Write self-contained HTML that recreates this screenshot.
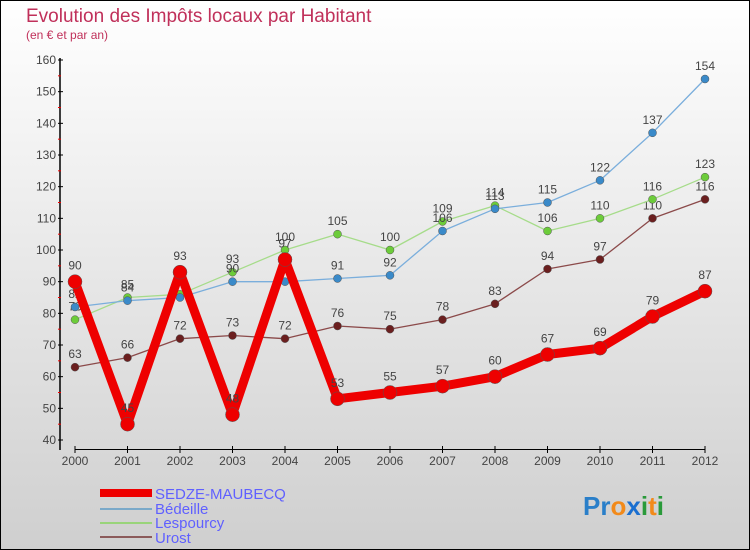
<!DOCTYPE html>
<html><head><meta charset="utf-8"><style>
body{margin:0}
#c{width:750px;height:550px;position:relative;overflow:hidden}
svg{font-family:"Liberation Sans",sans-serif}
</style></head><body>
<div id="c">
<svg id="s" width="750" height="550" xmlns="http://www.w3.org/2000/svg">
<defs><linearGradient id="bg" x1="0" y1="0" x2="0" y2="1"><stop offset="0" stop-color="#ffffff"/><stop offset="1" stop-color="#cfcfcf"/></linearGradient></defs>
<rect x="0.5" y="0.5" width="749" height="549" fill="url(#bg)" stroke="#000"/>
<text x="26" y="22" font-size="19" fill="#c0305a">Evolution des Impôts locaux par Habitant</text>
<text x="26" y="39" font-size="12" fill="#c0305a">(en € et par an)</text>
<g id="axes"></g><g id="series"></g>
<g>
<rect x="100" y="489" width="52" height="8" fill="#e00"/>
<text x="155" y="499" font-size="15" fill="#6060ff">SEDZE-MAUBECQ</text>
<rect x="100" y="508" width="52" height="2" fill="#7aa9c9"/>
<text x="155" y="514" font-size="15" fill="#6060ff">Bédeille</text>
<rect x="100" y="522" width="52" height="2" fill="#99d47a"/>
<text x="155" y="528" font-size="15" fill="#6060ff">Lespourcy</text>
<rect x="100" y="536" width="52" height="2" fill="#8b5a5a"/>
<text x="155" y="543" font-size="15" fill="#6060ff">Urost</text>
</g>
<text x="583" y="515" font-size="26" font-weight="bold"><tspan fill="#2a7fc9">Pr</tspan><tspan fill="#f28a1a">o</tspan><tspan fill="#1a6fd0">x</tspan><tspan fill="#2a9a3a">i</tspan><tspan fill="#f28a1a">t</tspan><tspan fill="#2a9a3a">i</tspan></text>
</svg></div>
<script>
const years=["2000","2001","2002","2003","2004","2005","2006","2007","2008","2009","2010","2011","2012"];
const yTicks=[40,50,60,70,80,90,100,110,120,130,140,150,160];
const sedze=[90,45,93,48,97,53,55,57,60,67,69,79,87];
const bedeille=[82,84,85,90,90,91,92,106,113,115,122,137,154];
const lespourcy=[78,85,86,93,100,105,100,109,114,106,110,116,123];
const urost=[63,66,72,73,72,76,75,78,83,94,97,110,116];
const NS="http://www.w3.org/2000/svg";
const X=i=>75+i*52.5, Y=v=>440-(v-40)*380/120;
function mk(t,a,p){const e=document.createElementNS(NS,t);for(const k in a)e.setAttribute(k,a[k]);p.appendChild(e);return e;}
const ax=document.getElementById('axes'), sg=document.getElementById('series');
let l=mk('line',{x1:60,y1:58,x2:60,y2:450,stroke:'#000','stroke-width':1.5},ax);


l=mk('line',{x1:75,y1:449.5,x2:705,y2:449.5,stroke:'#000','stroke-width':1},ax);


yTicks.forEach((v,i)=>{
 mk('line',{x1:58,y1:Y(v),x2:63,y2:Y(v),stroke:'#000'},ax);
 if(i<yTicks.length-1) mk('line',{x1:58,y1:Y(v+5),x2:61,y2:Y(v+5),stroke:'#e00'},ax);
 const t=mk('text',{x:56,y:Y(v)+4,'font-size':12,fill:'#444','text-anchor':'end'},ax);t.textContent=v;
 
 
});
years.forEach((y,i)=>{
 mk('line',{x1:X(i),y1:446,x2:X(i),y2:453,stroke:'#000'},ax);
 const t=mk('text',{x:X(i),y:465,'font-size':12,fill:'#444','text-anchor':'middle'},ax);t.textContent=y;
 
 
});
function draw(data,color,dark,w,r,name){
 const g=mk('g',{},sg);
 
 
 const p=mk('polyline',{points:data.map((v,i)=>X(i)+','+Y(v)).join(' '),fill:'none',stroke:color,'stroke-width':w,'stroke-linejoin':'round'},g);
 
 
 data.forEach((v,i)=>{
  const c=mk('circle',{cx:X(i),cy:Y(v),r:r,fill:dark,stroke:'#555','stroke-width':0.5},g);
  
  
  const t=mk('text',{x:X(i),y:Y(v)-r-5,'font-size':12,fill:'#444','text-anchor':'middle'},g);t.textContent=v;
  
  
 });
}
draw(urost,'#8b4a4a','#6b1f1f',1.3,4,'urost');
draw(lespourcy,'#a6dc8a','#6ccc3a',1.3,4,'lespourcy');
draw(bedeille,'#7aaedc','#3a8ac9',1.3,4,'bedeille');
draw(sedze,'#ee0000','#ee0000',9,7,'sedze');
</script>
</body></html>
